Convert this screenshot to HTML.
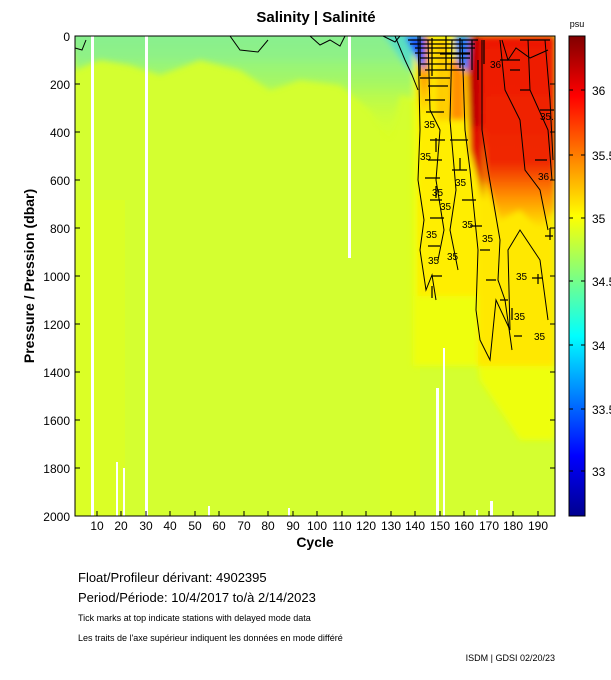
<!DOCTYPE html>
<html><head><style>
body{margin:0;background:#fff;width:611px;height:675px;overflow:hidden;font-family:"Liberation Sans",Arial,sans-serif}
svg text{font-family:"Liberation Sans",Arial,sans-serif}
</style></head><body>
<svg width="611" height="675" xmlns="http://www.w3.org/2000/svg">
<defs>
<linearGradient id="jet" x1="0" y1="1" x2="0" y2="0">
<stop offset="0" stop-color="#00008f"/>
<stop offset="0.125" stop-color="#0000ff"/>
<stop offset="0.375" stop-color="#00ffff"/>
<stop offset="0.625" stop-color="#ffff00"/>
<stop offset="0.875" stop-color="#ff0000"/>
<stop offset="1" stop-color="#800000"/>
</linearGradient>
<linearGradient id="top" x1="0" y1="0" x2="0" y2="1">
<stop offset="0" stop-color="#7cefa0"/>
<stop offset="0.5" stop-color="#a8f860"/>
<stop offset="1" stop-color="#d4ff30" stop-opacity="0"/>
</linearGradient>
<linearGradient id="redv" x1="0" y1="0" x2="0" y2="1">
<stop offset="0" stop-color="#ee1800"/>
<stop offset="0.65" stop-color="#f02800"/>
<stop offset="0.82" stop-color="#ff8c00"/>
<stop offset="1" stop-color="#ffee00"/>
</linearGradient>
<linearGradient id="orv" x1="0" y1="0" x2="0" y2="1">
<stop offset="0" stop-color="#ff7000"/>
<stop offset="0.6" stop-color="#ffb000"/>
<stop offset="1" stop-color="#ffee00"/>
</linearGradient>
<filter id="bl"><feGaussianBlur stdDeviation="3"/></filter>
<clipPath id="pc"><rect x="75" y="36" width="480" height="480"/></clipPath>
</defs>
<text x="316" y="22" font-size="15" font-weight="bold" text-anchor="middle">Salinity | Salinité</text>
<text x="577" y="27" font-size="9" text-anchor="middle">psu</text>
<g clip-path="url(#pc)">
<rect x="75" y="36" width="480" height="480" fill="#d4ff30"/>
<rect x="75" y="200" width="50" height="316" fill="#dcff24" opacity="0.8"/>
<rect x="380" y="130" width="40" height="386" fill="#dcff24" opacity="0.8"/>
<g filter="url(#bl)">
<polygon points="70,30 420,30 420,100 400,95 390,140 370,110 340,85 300,80 270,90 240,70 200,60 160,75 130,65 100,60 75,70" fill="url(#top)"/>
<rect x="75" y="30" width="345" height="30" fill="#8ef088" opacity="0.6"/>
<polygon points="380,30 420,30 420,80 405,65" fill="#5ae0c0"/>
<rect x="413" y="36" width="142" height="330" fill="#eeff10"/>
<polygon points="415,36 555,36 555,440 520,440 480,380 470,300 440,300 415,280" fill="#eeff10"/>
<rect x="418" y="36" width="62" height="260" fill="#ffee00"/>
<rect x="478" y="36" width="77" height="330" fill="#ffe800"/>
<rect x="418" y="36" width="12" height="80" fill="url(#orv)"/>
<rect x="436" y="40" width="12" height="80" fill="#ffcc00"/>
<polygon points="480,36 555,36 555,210 540,230 520,210 500,220 485,180" fill="url(#redv)"/>
<polygon points="466,36 482,36 484,200 470,150" fill="#e00800"/>
<rect x="470" y="36" width="10" height="90" fill="#c00000"/>
<rect x="450" y="60" width="15" height="60" fill="#ff9000"/>
<polygon points="405,36 425,36 425,70 418,62" fill="#1a5cff"/>
<polygon points="454,36 470,36 468,72 458,64" fill="#1a80ff"/>
</g>
<!-- white gaps -->
<g fill="#fff">
<rect x="91" y="36" width="3" height="480"/>
<rect x="145" y="36" width="3" height="480"/>
<rect x="348" y="36" width="3" height="222"/>
<rect x="116" y="462" width="2" height="54"/>
<rect x="123" y="468" width="2" height="48"/>
<rect x="208" y="506" width="2" height="10"/>
<rect x="288" y="508" width="2" height="8"/>
<rect x="436" y="388" width="3" height="128"/>
<rect x="443" y="348" width="2" height="168"/>
<rect x="476" y="510" width="2" height="6"/>
<rect x="490" y="501" width="3" height="15"/>
</g>
<!-- contours -->
<g fill="none" stroke="#000" stroke-width="1">
<path d="M418,36 L420,130 L418,180 L424,220 L420,250 L426,290 L432,275 L436,300"/>
<path d="M428,40 L430,110 L440,130 L436,180 L444,230 L438,260"/>
<path d="M452,40 L450,120 L456,190 L450,230 L458,270"/>
<path d="M462,40 L465,130 L470,170 L478,250 L476,310 L480,340 L490,360 L496,300 L510,330 L508,250 L520,230 L540,260 L548,320"/>
<path d="M482,40 L482,130 L488,170 L500,240 L498,280 L505,300 L512,350"/>
<path d="M500,40 L505,90 L520,120 L525,170 L540,190 L548,230"/>
<path d="M528,40 L530,90 L548,130 L552,180"/>
<path d="M545,40 L550,100 L553,160"/>
<path d="M395,36 L405,60 L412,75 L418,90"/>
<path d="M383,36 L395,42 L400,36"/>
<path d="M230,36 L240,50 L258,52 L268,40"/>
<path d="M75,48 L82,50 L86,40"/>
<path d="M310,36 L320,45 L330,40 L340,46 L345,36"/>
<path d="M502,40 L508,60 L516,48 L530,58 L548,50"/>
</g>
<g stroke="#000" stroke-width="1.2">
<path d="M408,40h70M410,44h65M415,48h60M415,53h55M420,58h50M420,64h45M425,70h40M420,78h30M428,86h20M425,100h20M426,112h18M430,140h15M428,160h14M425,178h15M430,200h12M430,218h14M428,246h12M432,276h10M450,140h18M452,170h15M462,200h14M470,226h12M480,250h10M486,280h10M500,300h8M514,336h8M532,278h10M545,236h8M500,60h20M510,70h10M520,90h10M540,110h14M535,160h12M520,40h30M440,54h30"/>
<path d="M420,36v40M432,38v38M446,36v34M460,38v30M472,40v30M484,40v24M436,138v14M436,186v12M460,158v12M512,308v12M538,274v10M550,228v12M432,286v12M478,60v20"/>
</g>
<g font-size="10" fill="#000">
<text x="420" y="160">35</text><text x="432" y="196">35</text><text x="426" y="238">35</text><text x="455" y="186">35</text>
<text x="462" y="228">35</text><text x="482" y="242">35</text><text x="428" y="264">35</text><text x="447" y="260">35</text>
<text x="534" y="340">35</text><text x="514" y="320">35</text><text x="540" y="120">35.5</text><text x="490" y="68">36</text>
<text x="538" y="180">36</text><text x="424" y="128">35</text><text x="440" y="210">35</text><text x="516" y="280">35</text>
</g>
</g>
<rect x="75" y="36" width="480" height="480" fill="none" stroke="#000"/>
<!-- y axis -->
<g font-size="12" text-anchor="end">
<text x="70" y="41">0</text><text x="70" y="89">200</text><text x="70" y="137">400</text><text x="70" y="185">600</text>
<text x="70" y="233">800</text><text x="70" y="281">1000</text><text x="70" y="329">1200</text><text x="70" y="377">1400</text>
<text x="70" y="425">1600</text><text x="70" y="473">1800</text><text x="70" y="521">2000</text>
</g>
<g stroke="#000"><path d="M75,84h5M75,132h5M75,180h5M75,228h5M75,276h5M75,324h5M75,372h5M75,420h5M75,468h5M550,84h5M550,132h5M550,180h5M550,228h5M550,276h5M550,324h5M550,372h5M550,420h5M550,468h5"/>
<path d="M97,516v-5M121,516v-5M146,516v-5M170,516v-5M195,516v-5M219,516v-5M244,516v-5M268,516v-5M293,516v-5M317,516v-5M342,516v-5M366,516v-5M391,516v-5M415,516v-5M440,516v-5M464,516v-5M489,516v-5M513,516v-5M538,516v-5"/></g>
<text transform="translate(34,276) rotate(-90)" font-size="14" font-weight="bold" text-anchor="middle">Pressure / Pression (dbar)</text>
<!-- x axis -->
<g font-size="12" text-anchor="middle">
<text x="97" y="530">10</text><text x="121" y="530">20</text><text x="146" y="530">30</text><text x="170" y="530">40</text>
<text x="195" y="530">50</text><text x="219" y="530">60</text><text x="244" y="530">70</text><text x="268" y="530">80</text>
<text x="293" y="530">90</text><text x="317" y="530">100</text><text x="342" y="530">110</text><text x="366" y="530">120</text>
<text x="391" y="530">130</text><text x="415" y="530">140</text><text x="440" y="530">150</text><text x="464" y="530">160</text>
<text x="489" y="530">170</text><text x="513" y="530">180</text><text x="538" y="530">190</text>
</g>
<text x="315" y="547" font-size="14" font-weight="bold" text-anchor="middle">Cycle</text>
<!-- colorbar -->
<rect x="569" y="36" width="16" height="480" fill="url(#jet)" stroke="#000"/>
<g stroke="#000"><path d="M569,90h4M581,90h4M569,155h4M581,155h4M569,218h4M581,218h4M569,281h4M581,281h4M569,345h4M581,345h4M569,409h4M581,409h4M569,471h4M581,471h4"/></g>
<g font-size="12">
<text x="592" y="95">36</text><text x="592" y="160">35.5</text><text x="592" y="223">35</text><text x="592" y="286">34.5</text>
<text x="592" y="350">34</text><text x="592" y="414">33.5</text><text x="592" y="476">33</text>
</g>
<!-- footer -->
<text x="78" y="582" font-size="13">Float/Profileur dérivant:  4902395</text>
<text x="78" y="602" font-size="13">Period/Période:  10/4/2017  to/à  2/14/2023</text>
<text x="78" y="621" font-size="9">Tick marks at top indicate stations with delayed mode data</text>
<text x="78" y="641" font-size="9">Les traits de l'axe supérieur indiquent les données en mode différé</text>
<text x="555" y="661" font-size="9" text-anchor="end">ISDM | GDSI  02/20/23</text>
</svg>
</body></html>
